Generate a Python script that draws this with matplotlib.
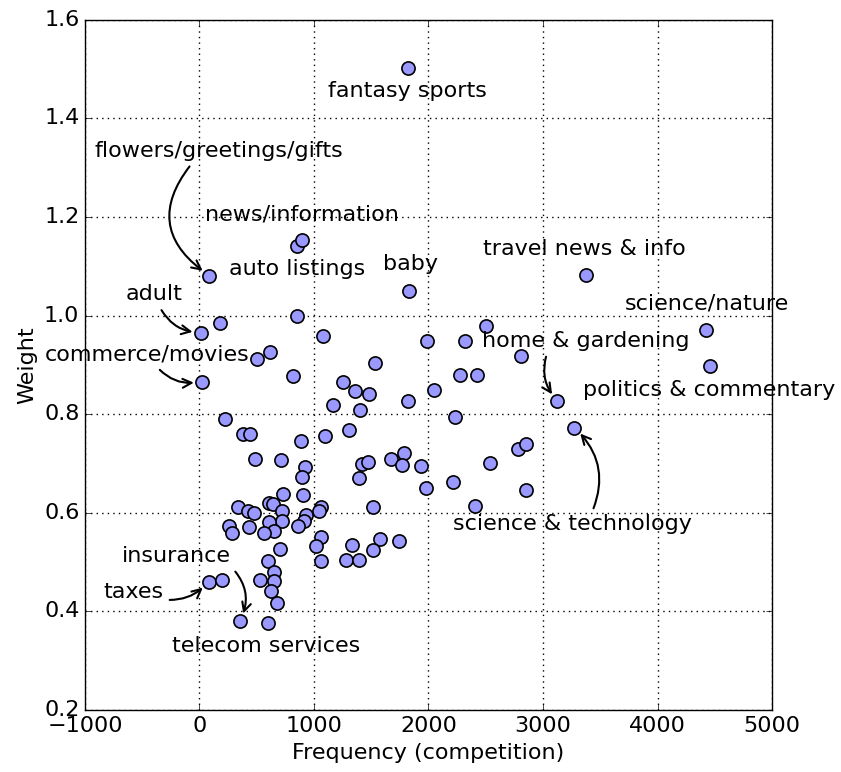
import matplotlib
matplotlib.use('Agg')
import matplotlib.pyplot as plt

plt.style.use('classic')
plt.rcParams['font.size'] = 16

# category frequency (competition) and weight
freq = [1817, 87, 850, 897, 1834, 3377, 4425, 4460, 856, 181,
        12, 1077, 617, 501, 23, 818, 1531, 1252, 1362, 1479,
        1817, 1164, 1400, 2504, 1985, 2317, 2806, 2271, 2422, 2050,
        3124, 2230, 3275, 1674, 1782, 1767, 1933, 2533, 2780, 2853,
        1980, 2212, 2853, 2405, 891, 1100, 1304, 227, 384, 437,
        489, 713, 920, 893, 1421, 1470, 1397, 728, 908, 611,
        640, 725, 929, 1063, 1042, 915, 859, 722, 611, 655,
        562, 1514, 1060, 1019, 1328, 1578, 1514, 1741, 705, 1063,
        1284, 1390, 338, 422, 472, 256, 286, 431, 600, 652,
        655, 629, 675, 530, 81, 198, 355, 600]
weight = [1.502, 1.081, 1.141, 1.153, 1.049, 1.082, 0.970, 0.897, 1.000, 0.985,
          0.965, 0.959, 0.927, 0.912, 0.866, 0.878, 0.904, 0.866, 0.848, 0.841,
          0.826, 0.819, 0.809, 0.978, 0.949, 0.949, 0.918, 0.880, 0.880, 0.849,
          0.827, 0.795, 0.773, 0.710, 0.721, 0.698, 0.695, 0.702, 0.729, 0.739,
          0.651, 0.663, 0.647, 0.614, 0.746, 0.756, 0.769, 0.790, 0.759, 0.760,
          0.710, 0.707, 0.692, 0.673, 0.700, 0.704, 0.670, 0.638, 0.637, 0.619,
          0.617, 0.604, 0.596, 0.611, 0.603, 0.584, 0.574, 0.584, 0.581, 0.564,
          0.559, 0.611, 0.550, 0.533, 0.535, 0.546, 0.524, 0.542, 0.527, 0.503,
          0.505, 0.504, 0.612, 0.603, 0.600, 0.574, 0.559, 0.571, 0.502, 0.479,
          0.461, 0.441, 0.418, 0.463, 0.460, 0.463, 0.380, 0.376]

# labelled categories and the index of the point each one refers to
label_names = ['fantasy sports', 'flowers/greetings/gifts', 'news/information',
               'auto listings', 'baby', 'travel news & info', 'science/nature',
               'politics & commentary', 'home & gardening', 'science & technology',
               'adult', 'commerce/movies', 'insurance', 'taxes', 'telecom services']
label_index = [0, 1, 3, 2, 4, 5, 6, 7, 30, 32, 10, 14, 96, 94, 96]

# text placement (data coords, left/centre anchored) and arrow settings
text_pos = [(1120, 1.456), (-917, 1.334), (52, 1.205), (262, 1.094),
            (1607, 1.104), (2480, 1.136), (3712, 1.024), (3345, 0.849),
            (2463, 0.949), (2210, 0.577), (-646, 1.043), (-1354, 0.921),
            (-681, 0.512), (-838, 0.440), (-236, 0.329)]
arrows = {
    'flowers/greetings/gifts': (0.40, 0.0, 0.55),
    'adult': (0.58, 0.0, 0.3),
    'commerce/movies': (0.54, 0.0, 0.3),
    'home & gardening': (0.32, 0.0, 0.3),
    'science & technology': (0.58, 1.0, 0.35),
    'insurance': (1.0, 0.0, -0.35),
    'taxes': (1.0, 0.1, 0.25),
}

fig = plt.figure(figsize=(8.41, 7.72), dpi=100)
ax = fig.add_axes([0.101, 0.0803, 0.817, 0.894])

ax.scatter(freq, weight, s=90, c='#9999ff', edgecolors='k', linewidths=1.2, zorder=3)

for name, idx, (tx, ty) in zip(label_names, label_index, text_pos):
    props = None
    if name in arrows:
        rx, ry, rad = arrows[name]
        props = dict(arrowstyle='->', connectionstyle='arc3,rad=%s' % rad,
                     relpos=(rx, ry), shrinkA=2, shrinkB=6, lw=1.5, color='k')
    ax.annotate(name, xy=(freq[idx], weight[idx]), xytext=(tx, ty),
                ha='left', va='center', fontsize=16, arrowprops=props,
                annotation_clip=False, zorder=4)

ax.set_xlim(-1000, 5000)
ax.set_ylim(0.2, 1.6)
ax.set_xticks(range(-1000, 5001, 1000))
ax.set_yticks([0.2, 0.4, 0.6, 0.8, 1.0, 1.2, 1.4, 1.6])
ax.grid(True, color='k', linestyle=':', linewidth=1.0)
ax.set_xlabel('Frequency (competition)')
ax.set_ylabel('Weight')

fig.savefig('out.png', dpi=100)
